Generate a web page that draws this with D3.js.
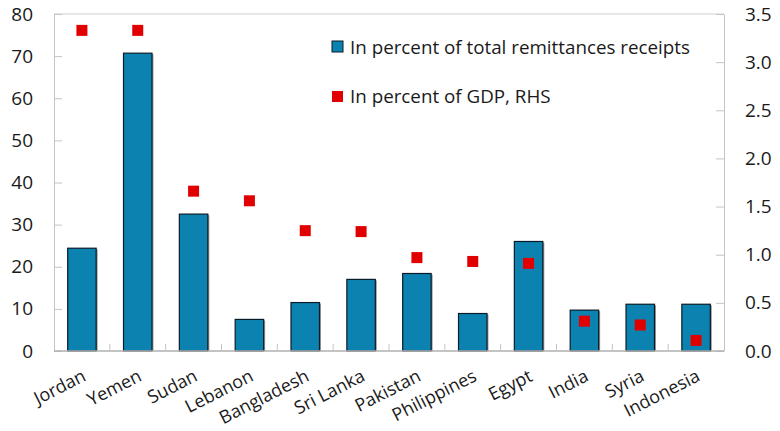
<!DOCTYPE html>
<meta charset="utf-8">
<script src="https://d3js.org/d3.v7.min.js"></script>
<style>
  body { margin: 0; background: #fff; }
  text { font-family: "Open Sans", "Noto Sans", sans-serif; fill: #1a1a1a; }
</style>
<div id="chart"></div>
<script>
  // data
  var countries = ["Jordan", "Yemen", "Sudan", "Lebanon", "Bangladesh", "Sri Lanka",
                   "Pakistan", "Philippines", "Egypt", "India", "Syria", "Indonesia"];
  var pctRemit = [24.4, 70.7, 32.5, 7.5, 11.5, 17.0, 18.4, 8.9, 26.0, 9.7, 11.1, 11.1];
  var pctGDP = [3.33, 3.33, 1.66, 1.56, 1.25, 1.24, 0.97, 0.93, 0.91, 0.31, 0.27, 0.11];
  var leftTicks = [0, 10, 20, 30, 40, 50, 60, 70, 80];
  var rightTicks = [0, 0.5, 1, 1.5, 2, 2.5, 3, 3.5];
  var legendLabels = ["In percent of total remittances receipts", "In percent of GDP, RHS"];

  var margin = {top: 14, right: 56, bottom: 80, left: 54},
      width = 780 - margin.left - margin.right,
      height = 431 - margin.top - margin.bottom;

  var svg = d3.select("#chart").append("svg")
      .attr("width", 780)
      .attr("height", 431)
    .append("g")
      .attr("transform", "translate(" + margin.left + "," + margin.top + ")");

  var x = d3.scaleBand().domain(countries).range([0, width]);
  var yL = d3.scaleLinear().domain([0, 80]).range([height, 0]);
  var yR = d3.scaleLinear().domain([0, 3.5]).range([height, 0]);

  // frame top line
  svg.append("line")
      .attr("x1", 0).attr("x2", width).attr("y1", 0).attr("y2", 0)
      .attr("stroke", "#d0d0d0");

  // left axis
  var gl = svg.append("g")
      .call(d3.axisLeft(yL).tickValues(leftTicks).tickSize(-8).tickPadding(21).tickSizeOuter(0));
  gl.select(".domain").attr("stroke", "#c4c4c4");
  gl.selectAll(".tick line").attr("stroke", "#c4c4c4");
  gl.selectAll(".tick text").style("font-size", "19px");

  // right axis
  var gr = svg.append("g")
      .attr("transform", "translate(" + width + ",0)")
      .call(d3.axisRight(yR).tickValues(rightTicks).tickSize(-8).tickPadding(21).tickSizeOuter(0)
        .tickFormat(d3.format(".1f")));
  gr.select(".domain").attr("stroke", "#c4c4c4");
  gr.selectAll(".tick line").attr("stroke", "#c4c4c4");
  gr.selectAll(".tick text").style("font-size", "19px");

  // bars
  var bw = x.bandwidth() * 0.51;
  var bars = svg.selectAll(".bar")
    .data(countries)
    .enter().append("g");
  bars.append("rect")
      .attr("x", function(d) { return x(d) + (x.bandwidth() - bw) / 2 + 1.5; })
      .attr("y", function(d, i) { return yL(pctRemit[i]) + 1; })
      .attr("width", bw)
      .attr("height", function(d, i) { return height - yL(pctRemit[i]) - 1; })
      .attr("fill", "#9a9a9a");
  bars.append("rect")
      .attr("x", function(d) { return x(d) + (x.bandwidth() - bw) / 2; })
      .attr("y", function(d, i) { return yL(pctRemit[i]); })
      .attr("width", bw)
      .attr("height", function(d, i) { return height - yL(pctRemit[i]); })
      .attr("fill", "#0b82b0")
      .attr("stroke", "#0a1c28")
      .attr("stroke-width", 1.2);

  // bottom axis
  var gb = svg.append("g")
      .attr("transform", "translate(0," + height + ")");
  gb.append("line")
      .attr("x1", 0).attr("x2", width)
      .attr("stroke", "#b0b0b0").attr("stroke-width", 1.5);
  gb.selectAll(".cat-tick")
    .data(countries.slice(1))
    .enter().append("line")
      .attr("x1", function(d) { return x(d); })
      .attr("x2", function(d) { return x(d); })
      .attr("y1", 0).attr("y2", -7)
      .attr("stroke", "#c4c4c4");
  gb.selectAll(".cat-label")
    .data(countries)
    .enter().append("text")
      .attr("transform", function(d) {
        return "translate(" + (x(d) + x.bandwidth() / 2 - 1) + ",17) rotate(-27)";
      })
      .attr("text-anchor", "end")
      .attr("dy", "0.75em")
      .style("font-size", "18px")
      .text(function(d) { return d; });

  // markers
  var ms = 11;
  svg.selectAll(".dot")
    .data(countries)
    .enter().append("rect")
      .attr("x", function(d) { return x(d) + x.bandwidth() / 2 - ms / 2; })
      .attr("y", function(d, i) { return yR(pctGDP[i]) - ms / 2; })
      .attr("width", ms)
      .attr("height", ms)
      .attr("fill", "#e00000");

  // legend
  var lg = svg.append("g").attr("transform", "translate(278,27)");
  lg.append("rect")
      .attr("x", 0).attr("y", 0).attr("width", 11).attr("height", 11)
      .attr("fill", "#0b82b0").attr("stroke", "#0a1c28");
  lg.append("text")
      .attr("x", 18).attr("y", 6).attr("dy", "0.35em")
      .style("font-size", "18.8px")
      .text(legendLabels[0]);
  lg.append("rect")
      .attr("x", 0).attr("y", 50).attr("width", 11).attr("height", 11)
      .attr("fill", "#e00000");
  lg.append("text")
      .attr("x", 18).attr("y", 55).attr("dy", "0.35em")
      .style("font-size", "18.8px")
      .text(legendLabels[1]);
</script>
